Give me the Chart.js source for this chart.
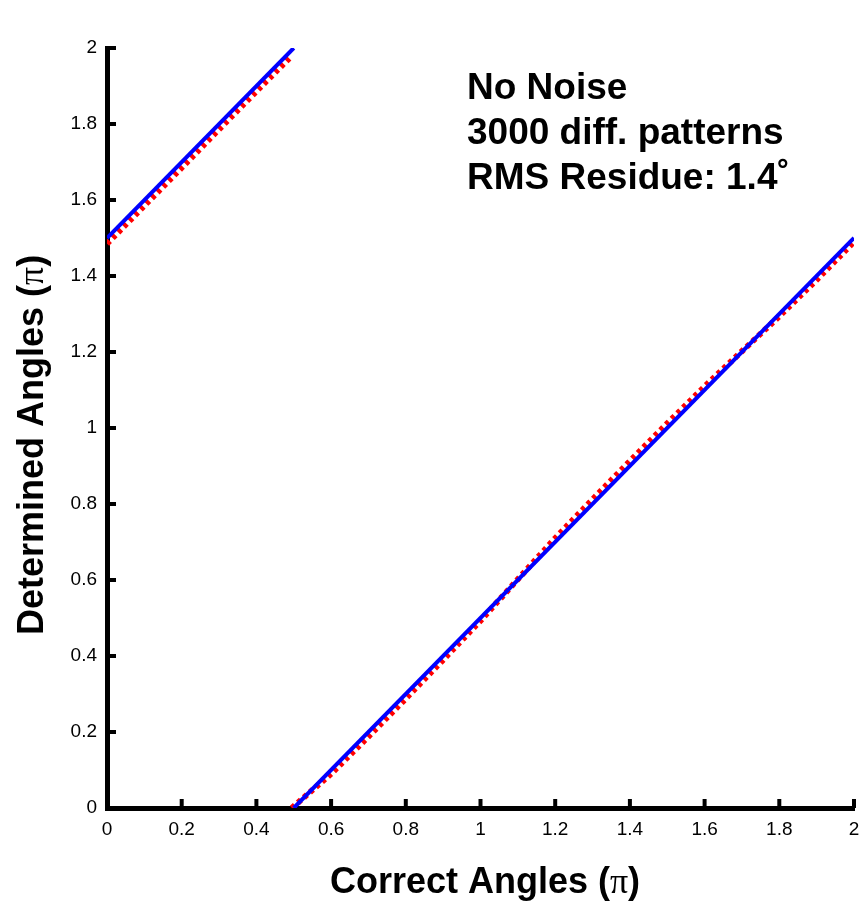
<!DOCTYPE html>
<html>
<head>
<meta charset="utf-8">
<script src="https://cdn.jsdelivr.net/npm/chart.js@4.4.1/dist/chart.umd.min.js"></script>
<style>
  html, body { margin: 0; padding: 0; background: #fff; }
  #wrap { width: 860px; height: 905px; position: relative; }
</style>
</head>
<body>
<div id="wrap"><canvas id="chart"></canvas></div>
<script>
// correct (true) relation, two branches
const trueUpperX = [0, 0.5];
const trueUpperY = [1.5, 2];
const trueLowerX = [0.5, 2];
const trueLowerY = [0, 1.5];

// determined angles
const detUpperX = [0, 0.1, 0.2, 0.3, 0.4, 0.49];
const detUpperY = [1.485, 1.585, 1.685, 1.786, 1.886, 1.975];
const detLowerX = [0.495, 0.6, 0.7, 0.8, 0.9, 1.0, 1.1, 1.2, 1.3, 1.4, 1.5, 1.6, 1.7, 1.8, 1.9, 2.0];
const detLowerY = [0, 0.09, 0.188, 0.288, 0.39, 0.493, 0.602, 0.71, 0.812, 0.913, 1.012, 1.109, 1.202, 1.294, 1.39, 1.49];

const tickValues = [0, 0.2, 0.4, 0.6, 0.8, 1, 1.2, 1.4, 1.6, 1.8, 2];

const xTitle = [["Correct Angles (", "bold 36px 'Liberation Sans'"], ["π", "36px 'Liberation Serif'"], [")", "bold 36px 'Liberation Sans'"]];
const yTitle = [["Determined Angles (", "bold 36px 'Liberation Sans'"], ["π", "36px 'Liberation Serif'"], [")", "bold 36px 'Liberation Sans'"]];
const noteLines = ["No Noise", "3000 diff. patterns", "RMS Residue: 1.4˚"];

function pts(xs, ys) {
    return xs.map((x, i) => ({ x: x, y: ys[i] }));
}

function drawParts(ctx, parts, x, y) {
    let total = 0;
    parts.forEach(p => { ctx.font = p[1]; total += ctx.measureText(p[0]).width; });
    let cx = x - total / 2;
    parts.forEach(p => {
        ctx.font = p[1];
        ctx.fillText(p[0], cx, y);
        cx += ctx.measureText(p[0]).width;
    });
}

const decorPlugin = {
    id: "decor",
    afterDraw(chart) {
        const ctx = chart.ctx;
        const xs = chart.scales.x, ys = chart.scales.y;
        const area = chart.chartArea;
        ctx.save();
        // inward tick marks
        ctx.strokeStyle = "#000";
        ctx.lineWidth = 4;
        tickValues.forEach(v => {
            if (v === 0) return;
            const px = xs.getPixelForValue(v);
            ctx.beginPath();
            ctx.moveTo(px, area.bottom);
            ctx.lineTo(px, area.bottom - 9);
            ctx.stroke();
            const py = ys.getPixelForValue(v);
            ctx.beginPath();
            ctx.moveTo(area.left, py);
            ctx.lineTo(area.left + 9, py);
            ctx.stroke();
        });

        ctx.fillStyle = "#000";
        ctx.textAlign = "left";
        ctx.textBaseline = "alphabetic";
        // axis titles
        drawParts(ctx, xTitle, 485, 893);
        ctx.save();
        ctx.translate(43, 445);
        ctx.rotate(-Math.PI / 2);
        drawParts(ctx, yTitle, 0, 0);
        ctx.restore();

        // annotation
        ctx.font = "bold 37px 'Liberation Sans'";
        noteLines.forEach((line, i) => {
            ctx.fillText(line, 467, 99 + i * 45);
        });
        ctx.restore();
    }
};

const blue = "#0000ff";
const red = "#ff0000";

new Chart(document.getElementById("chart"), {
    type: "line",
    data: {
        datasets: [
            { data: pts(trueUpperX, trueUpperY), borderColor: blue, borderWidth: 4, pointRadius: 0, order: 0 },
            { data: pts(trueLowerX, trueLowerY), borderColor: blue, borderWidth: 4, pointRadius: 0, order: 0 },
            { data: pts(detUpperX, detUpperY), borderColor: red, borderWidth: 6, borderDash: [4, 4], pointRadius: 0, order: 1 },
            { data: pts(detLowerX, detLowerY), borderColor: red, borderWidth: 6, borderDash: [4, 4], pointRadius: 0, order: 1 }
        ]
    },
    options: {
        responsive: true,
        maintainAspectRatio: false,
        animation: false,
        layout: { padding: { top: 48, right: 6, left: 0, bottom: 0 } },
        plugins: {
            legend: { display: false },
            tooltip: { enabled: false }
        },
        scales: {
            x: {
                type: "linear",
                min: 0,
                max: 2,
                afterFit: s => { s.height = 97; s.paddingRight = 0; s.paddingLeft = 0; },
                afterBuildTicks: s => { s.ticks = tickValues.map(v => ({ value: v })); },
                grid: { display: false, drawTicks: false },
                border: { display: true, width: 5, color: "#000" },
                ticks: {
                    padding: 10,
                    color: "#000",
                    maxRotation: 0,
                    autoSkip: false,
                    callback: v => String(v),
                    font: { family: "'Liberation Sans'", size: 19 }
                }
            },
            y: {
                type: "linear",
                min: 0,
                max: 2,
                afterFit: s => { s.width = 107; },
                afterBuildTicks: s => { s.ticks = tickValues.map(v => ({ value: v })); },
                grid: { display: false, drawTicks: false },
                border: { display: true, width: 5, color: "#000" },
                ticks: {
                    padding: 10,
                    color: "#000",
                    autoSkip: false,
                    callback: v => String(v),
                    font: { family: "'Liberation Sans'", size: 19 }
                }
            }
        }
    },
    plugins: [decorPlugin]
});
</script>
</body>
</html>
